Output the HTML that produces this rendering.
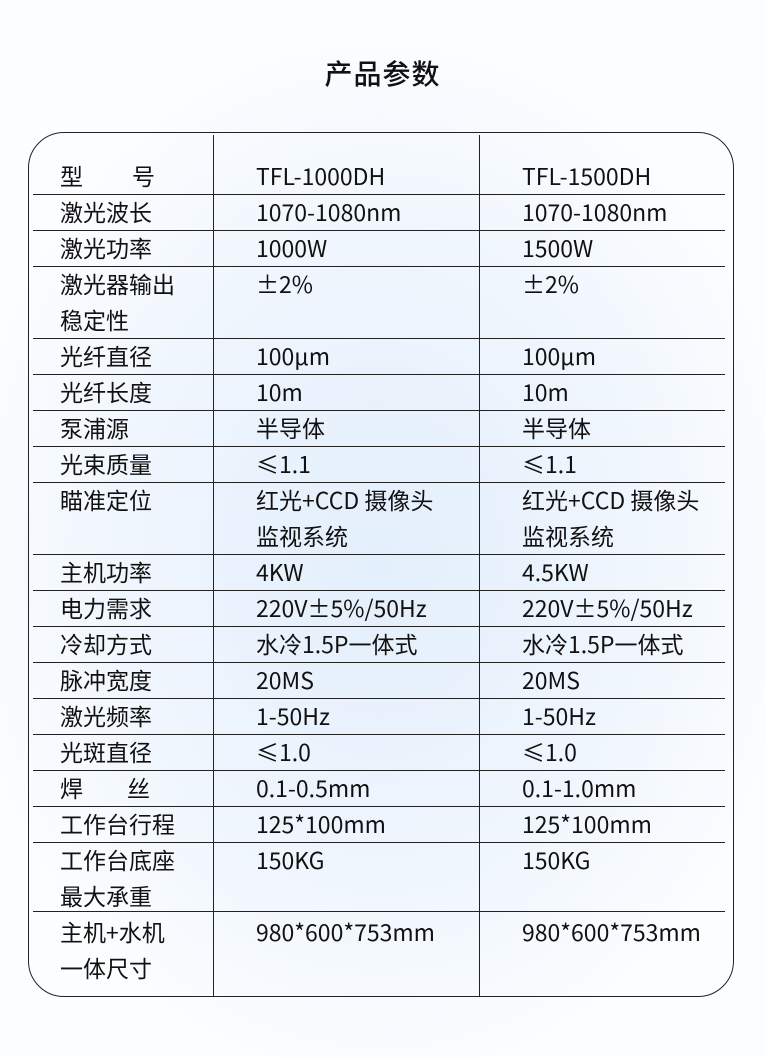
<!DOCTYPE html>
<html><head><meta charset="utf-8"><style>
*{margin:0;padding:0;box-sizing:border-box}
body{width:765px;height:1057px;position:relative;overflow:hidden;font-family:"Noto Sans CJK SC","Liberation Sans",sans-serif;color:#111;
background:radial-gradient(ellipse 420px 520px at 380px 560px,#e3effc 0%,#eef5fd 55%,#fbfdff 100%);}
.title{position:absolute;top:52px;left:0;width:765px;text-align:center;font-size:28px;font-weight:500;letter-spacing:1px;line-height:42px}
.box{position:absolute;left:28px;top:132px;width:706px;height:865px;border:1.2px solid #222;border-radius:36px}
.h{position:absolute;left:33px;width:692px;height:1.2px;background:#222}
.v{position:absolute;top:135px;height:861px;width:1.2px;background:#222}
.t{position:absolute;font-size:23px;line-height:36px;white-space:nowrap;margin-top:-1px}
</style></head><body>
<div class="title">产品参数</div>
<div class="box"></div>
<div class="v" style="left:213px"></div>
<div class="v" style="left:479px"></div>
<div class="h" style="top:194px"></div><div class="h" style="top:230px"></div><div class="h" style="top:266px"></div><div class="h" style="top:338px"></div><div class="h" style="top:374px"></div><div class="h" style="top:410px"></div><div class="h" style="top:446px"></div><div class="h" style="top:482px"></div><div class="h" style="top:554px"></div><div class="h" style="top:590px"></div><div class="h" style="top:626px"></div><div class="h" style="top:662px"></div><div class="h" style="top:698px"></div><div class="h" style="top:734px"></div><div class="h" style="top:770px"></div><div class="h" style="top:806px"></div><div class="h" style="top:842px"></div><div class="h" style="top:911px"></div>

<div class="t" style="top:158px;left:60px">型</div><div class="t" style="top:158px;left:132px">号</div>
<div class="t" style="top:158px;left:256px">TFL-1000DH</div><div class="t" style="top:158px;left:522px">TFL-1500DH</div>

<div class="t" style="top:194px;left:60px">激光波长</div><div class="t" style="top:194px;left:256px">1070-1080nm</div><div class="t" style="top:194px;left:522px">1070-1080nm</div>
<div class="t" style="top:230px;left:60px">激光功率</div><div class="t" style="top:230px;left:256px">1000W</div><div class="t" style="top:230px;left:522px">1500W</div>
<div class="t" style="top:266px;left:60px">激光器输出<br>稳定性</div><div class="t" style="top:266px;left:256px">±2%</div><div class="t" style="top:266px;left:522px">±2%</div>
<div class="t" style="top:338px;left:60px">光纤直径</div><div class="t" style="top:338px;left:256px">100μm</div><div class="t" style="top:338px;left:522px">100μm</div>
<div class="t" style="top:374px;left:60px">光纤长度</div><div class="t" style="top:374px;left:256px">10m</div><div class="t" style="top:374px;left:522px">10m</div>
<div class="t" style="top:410px;left:60px">泵浦源</div><div class="t" style="top:410px;left:256px">半导体</div><div class="t" style="top:410px;left:522px">半导体</div>
<div class="t" style="top:446px;left:60px">光束质量</div><div class="t" style="top:446px;left:256px">≤1.1</div><div class="t" style="top:446px;left:522px">≤1.1</div>
<div class="t" style="top:482px;left:60px">瞄准定位</div><div class="t" style="top:482px;left:256px">红光+CCD 摄像头<br>监视系统</div><div class="t" style="top:482px;left:522px">红光+CCD 摄像头<br>监视系统</div>
<div class="t" style="top:554px;left:60px">主机功率</div><div class="t" style="top:554px;left:256px">4KW</div><div class="t" style="top:554px;left:522px">4.5KW</div>
<div class="t" style="top:590px;left:60px">电力需求</div><div class="t" style="top:590px;left:256px">220V±5%/50Hz</div><div class="t" style="top:590px;left:522px">220V±5%/50Hz</div>
<div class="t" style="top:626px;left:60px">冷却方式</div><div class="t" style="top:626px;left:256px">水冷1.5P一体式</div><div class="t" style="top:626px;left:522px">水冷1.5P一体式</div>
<div class="t" style="top:662px;left:60px">脉冲宽度</div><div class="t" style="top:662px;left:256px">20MS</div><div class="t" style="top:662px;left:522px">20MS</div>
<div class="t" style="top:698px;left:60px">激光频率</div><div class="t" style="top:698px;left:256px">1-50Hz</div><div class="t" style="top:698px;left:522px">1-50Hz</div>
<div class="t" style="top:734px;left:60px">光斑直径</div><div class="t" style="top:734px;left:256px">≤1.0</div><div class="t" style="top:734px;left:522px">≤1.0</div>
<div class="t" style="top:770px;left:60px">焊</div><div class="t" style="top:770px;left:127px">丝</div><div class="t" style="top:770px;left:256px">0.1-0.5mm</div><div class="t" style="top:770px;left:522px">0.1-1.0mm</div>
<div class="t" style="top:806px;left:60px">工作台行程</div><div class="t" style="top:806px;left:256px">125*100mm</div><div class="t" style="top:806px;left:522px">125*100mm</div>
<div class="t" style="top:842px;left:60px">工作台底座<br>最大承重</div><div class="t" style="top:842px;left:256px">150KG</div><div class="t" style="top:842px;left:522px">150KG</div>
<div class="t" style="top:914px;left:60px">主机+水机<br>一体尺寸</div><div class="t" style="top:914px;left:256px">980*600*753mm</div><div class="t" style="top:914px;left:522px">980*600*753mm</div>
</body></html>
